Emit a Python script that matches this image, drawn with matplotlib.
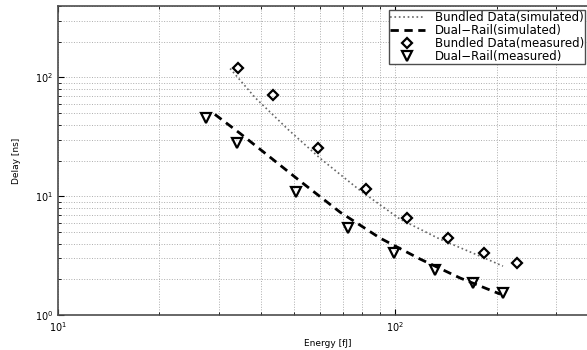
import matplotlib
matplotlib.use("Agg")
import matplotlib.pyplot as plt
from matplotlib.ticker import LogLocator, NullFormatter

plt.rcParams['font.family'] = ['DejaVu Sans']

# measured points
bd_meas_x = [34.2, 43.4, 59.2, 82, 108.6, 143.6, 183.6, 230]
bd_meas_y = [121, 70.6, 25.3, 11.5, 6.53, 4.44, 3.32, 2.74]
dr_meas_x = [27.5, 34, 50.8, 72.6, 99.3, 131.5, 170, 209]
dr_meas_y = [45.2, 27.9, 10.8, 5.38, 3.32, 2.39, 1.86, 1.53]

# simulated curves
bd_sim_x = [32.4, 38.4, 48.1, 59.9, 78.7, 103.5, 136, 178.7, 209]
bd_sim_y = [119, 67.9, 36.6, 20.9, 11.2, 6.41, 4.35, 3.13, 2.58]
dr_sim_x = [29.2, 34.7, 42.6, 52.3, 68.7, 90.3, 118.6, 155.9, 205]
dr_sim_y = [48.9, 33.8, 21.3, 13.4, 7.34, 4.44, 2.96, 2.05, 1.50]

labels = ['Bundled Data(simulated)', 'Dual\u2212Rail(simulated)',
          'Bundled Data(measured)', 'Dual\u2212Rail(measured)']

fig = plt.figure(figsize=(5.87, 3.5), dpi=100)
ax = fig.add_axes([58/587, 35/350, (598-58)/587, (315-6)/350])

ax.plot(bd_sim_x, bd_sim_y, ':', color='0.4', lw=1.2, label=labels[0])
ax.plot(dr_sim_x, dr_sim_y, '--', color='black', lw=2.0, dashes=(3, 2),
        label=labels[1])
ax.plot(bd_meas_x, bd_meas_y, 'D', ms=5, mfc='none', mec='black', mew=1.6,
        label=labels[2])
ax.plot(dr_meas_x, dr_meas_y, 'v', ms=7, mfc='none', mec='black', mew=1.6,
        label=labels[3])

ax.set_xscale('log')
ax.set_yscale('log')
ax.set_xlim(10, 400)
ax.set_ylim(1, 400)

ax.xaxis.set_minor_locator(LogLocator(base=10, subs=range(2, 10)))
ax.yaxis.set_minor_locator(LogLocator(base=10, subs=range(2, 10)))
ax.xaxis.set_minor_formatter(NullFormatter())
ax.yaxis.set_minor_formatter(NullFormatter())
ax.grid(True, which='both', linestyle=':', color='0.68', lw=0.7)
ax.tick_params(which='both', direction='in', labelsize=7, top=True, right=True)
ax.tick_params(which='major', length=4)
ax.tick_params(which='minor', length=2)
for s in ax.spines.values():
    s.set_linewidth(1.2)
    s.set_color('0.3')

ax.set_xlabel('Energy [fJ]', fontsize=6.5, labelpad=4)
ax.set_ylabel('Delay [ns]', fontsize=6.5, labelpad=10)

leg = ax.legend(loc='upper right', bbox_to_anchor=(585/587, 1 - 10/350),
                bbox_transform=fig.transFigure, fontsize=8.5, frameon=True,
                fancybox=False, edgecolor='0.3', framealpha=1,
                borderpad=0.1, labelspacing=0.0, handlelength=3.0,
                handletextpad=0.8, borderaxespad=0)
leg.get_frame().set_linewidth(1.0)

fig.savefig('out.png', dpi=100)
